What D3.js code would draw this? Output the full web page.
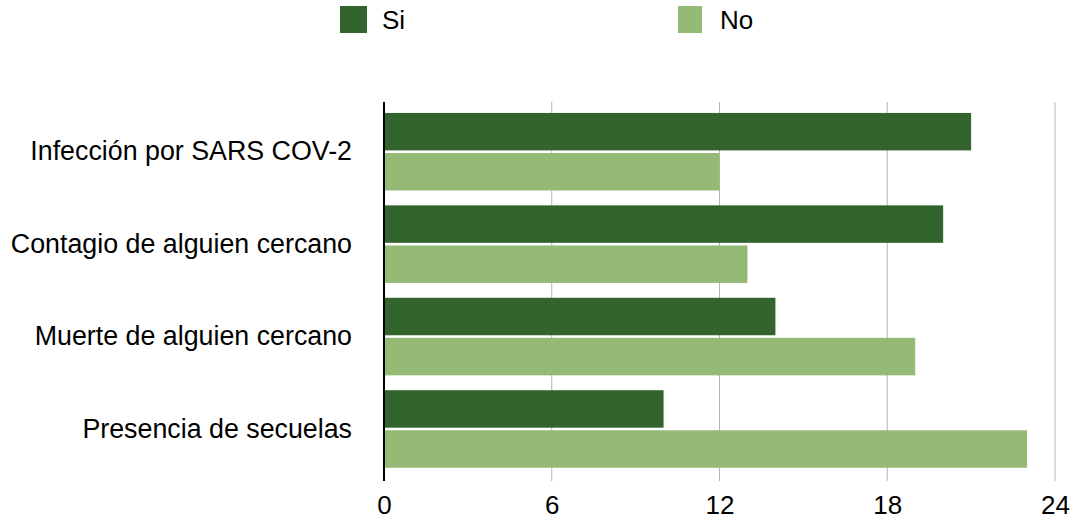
<!DOCTYPE html>
<html>
<head>
<meta charset="utf-8">
<script src="https://cdn.jsdelivr.net/npm/d3@7"></script>
<style>
  html, body { margin: 0; padding: 0; background: #fff; }
  svg { display: block; font-family: "Liberation Sans", Arial, Helvetica, sans-serif; }
</style>
</head>
<body>
<svg id="chart" width="1073" height="521"></svg>
<script>
// Categories, series and axis ticks
const categories = [
  "Infección por SARS COV-2",
  "Contagio de alguien cercano",
  "Muerte de alguien cercano",
  "Presencia de secuelas"
];
const seriesNames = ["Si", "No"];
const siValues = [21, 20, 14, 10];
const noValues = [12, 13, 19, 23];
const xTicks = [0, 6, 12, 18, 24];
const colors = ["#33642e", "#94ba76"];

const svg = d3.select("#chart");

const plotTop = 102, plotBottom = 481;
const x = d3.scaleLinear().domain([0, 24]).range([384, 1055]);

const y = d3.scaleBand()
  .domain(categories)
  .range([105.5, 475.2])
  .paddingInner(0.161)
  .paddingOuter(0.0805);

const ySub = d3.scaleBand()
  .domain(seriesNames)
  .range([0, y.bandwidth()])
  .paddingInner(0.065);

const color = d3.scaleOrdinal().domain(seriesNames).range(colors);

const rows = categories.map((c, i) => ({ category: c, Si: siValues[i], No: noValues[i] }));

// Vertical grid lines
svg.append("g")
  .selectAll("line")
  .data(xTicks.filter(t => t > 0))
  .join("line")
  .attr("x1", d => x(d)).attr("x2", d => x(d))
  .attr("y1", plotTop).attr("y2", plotBottom)
  .attr("stroke", "#b5b5b5")
  .attr("stroke-width", 1);

// Bars
const groups = svg.append("g")
  .selectAll("g")
  .data(rows)
  .join("g")
  .attr("transform", d => `translate(0,${y(d.category)})`);

groups.selectAll("rect")
  .data(d => seriesNames.map(s => ({ key: s, value: d[s] })))
  .join("rect")
  .attr("x", x(0))
  .attr("y", d => ySub(d.key))
  .attr("width", d => x(d.value) - x(0))
  .attr("height", ySub.bandwidth())
  .attr("fill", d => color(d.key));

// Baseline axis
svg.append("line")
  .attr("x1", x(0)).attr("x2", x(0))
  .attr("y1", plotTop).attr("y2", plotBottom)
  .attr("stroke", "#000")
  .attr("stroke-width", 2);

// X axis labels
const xAxis = d3.axisBottom(x).tickValues(xTicks).tickSize(0).tickPadding(0);
const gx = svg.append("g")
  .attr("transform", `translate(0,${plotBottom})`)
  .call(xAxis);
gx.select(".domain").remove();
gx.selectAll("text")
  .attr("y", 33)
  .attr("dy", 0)
  .attr("fill", "#000")
  .style("font-size", "26px")
  .style("font-family", "'Liberation Sans', Arial, sans-serif");

// Category labels
const yAxis = d3.axisLeft(y).tickSize(0).tickPadding(0);
const gy = svg.append("g")
  .attr("transform", "translate(352,0)")
  .call(yAxis);
gy.select(".domain").remove();
gy.selectAll("text")
  .attr("x", 0)
  .attr("fill", "#000")
  .style("font-size", "26.8px")
  .style("font-family", "'Liberation Sans', Arial, sans-serif");

// Legend
const legendX = [340, 678];
const legend = svg.append("g")
  .selectAll("g")
  .data(seriesNames)
  .join("g")
  .attr("transform", (d, i) => `translate(${legendX[i]},6)`);
legend.append("rect")
  .attr("width", (d, i) => i === 0 ? 27 : 24)
  .attr("height", 27)
  .attr("fill", d => color(d));
legend.append("text")
  .attr("x", 42)
  .attr("y", 23)
  .attr("fill", "#000")
  .style("font-size", "26px")
  .text(d => d);
</script>
</body>
</html>
